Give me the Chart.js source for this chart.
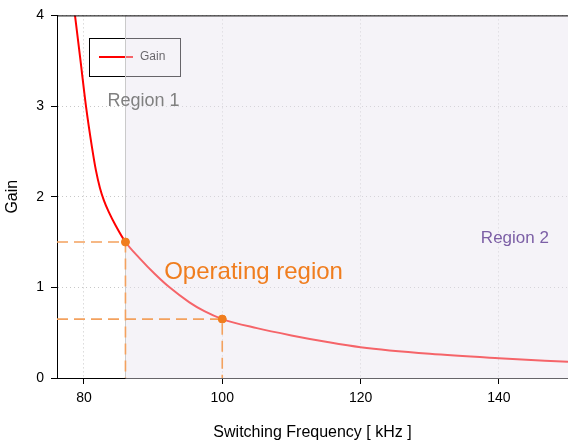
<!DOCTYPE html>
<html>
<head>
<meta charset="utf-8">
<script src="https://cdn.jsdelivr.net/npm/chart.js@4.4.1/dist/chart.umd.min.js"></script>
<style>
  html, body { margin: 0; padding: 0; background: #fff; }
  #wrap { width: 568px; height: 443px; }
</style>
</head>
<body>
<div id="wrap"><canvas id="gain-chart" width="568" height="443"></canvas></div>
<script>
// values
const freqKHz = [78.7, 79.5, 80.29, 81.15, 81.73, 82.3, 82.88, 83.6, 84.6, 86,
  88.06, 90.22, 92.37, 95.25, 97.41, 100, 105, 110, 115, 120, 130, 140, 150];
const gain = [4.0, 3.5, 3.0, 2.55, 2.29, 2.1, 1.96, 1.83, 1.68, 1.5,
  1.32, 1.15, 1.0, 0.835, 0.737, 0.65, 0.55, 0.47, 0.40, 0.34, 0.267, 0.218, 0.178];
const opFreq = [86, 100];
const opGain = [1.5, 0.65];
const regionSplit = 86;
const xTicks = [80, 100, 120, 140];
const yTicks = [0, 1, 2, 3, 4];
const xMin = 76.1, xMax = 150;

const font = "'Liberation Sans', Arial, sans-serif";
Chart.defaults.font.family = font;
Chart.defaults.color = '#000';

const gainPoints = freqKHz.map((f, i) => ({ x: f, y: gain[i] }));

// dashed guide lines from the y axis to each operating point and down to 0
const guideSets = opFreq.map((f, i) => ({
  label: 'guide' + i,
  data: [{ x: xMin, y: opGain[i] }, { x: f, y: opGain[i] }, { x: f, y: 0 }],
  borderColor: '#f3a15e',
  borderWidth: 1.6,
  borderDash: [11, 6],
  pointRadius: 0,
  tension: 0,
  order: 2
}));

const decor = {
  id: 'decor',
  beforeDatasetsDraw(chart) {
    // legend box (sits under the region shading like in the original)
    const ctx = chart.ctx;
    ctx.save();
    ctx.fillStyle = '#fff';
    ctx.fillRect(89.5, 38.5, 91, 38);
    ctx.strokeStyle = '#000';
    ctx.lineWidth = 1;
    ctx.strokeRect(89.5, 38.5, 91, 38);
    ctx.strokeStyle = chart.data.datasets[0].borderColor;
    ctx.lineWidth = 2;
    ctx.beginPath();
    ctx.moveTo(99, 57);
    ctx.lineTo(133, 57);
    ctx.stroke();
    ctx.fillStyle = '#000';
    ctx.font = '12px ' + font;
    ctx.textBaseline = 'middle';
    ctx.fillText(chart.data.datasets[0].label, 140, 57);
    ctx.restore();
  },
  afterDatasetDraw(chart, args) {
    if (args.index !== 0) return;
    const { ctx, chartArea } = chart;
    const x = chart.scales.x.getPixelForValue(regionSplit);
    ctx.save();
    ctx.fillStyle = 'rgba(232, 227, 239, 0.44)';
    ctx.fillRect(x, chartArea.top, chartArea.right - x, chartArea.bottom - chartArea.top + 1);
    ctx.strokeStyle = '#cacaca';
    ctx.lineWidth = 1;
    ctx.beginPath();
    ctx.moveTo(Math.round(x) + 0.5, chartArea.top);
    ctx.lineTo(Math.round(x) + 0.5, chartArea.bottom);
    ctx.stroke();
    ctx.restore();
  },
  afterDatasetsDraw(chart) {
    const { ctx } = chart;
    const sx = chart.scales.x, sy = chart.scales.y;
    ctx.save();
    ctx.textAlign = 'left';
    ctx.textBaseline = 'alphabetic';
    ctx.font = '18px ' + font;
    ctx.fillStyle = '#808080';
    ctx.fillText('Region 1', sx.getPixelForValue(83.4), sy.getPixelForValue(3.0));
    ctx.textBaseline = 'middle';
    ctx.font = '17px ' + font;
    ctx.fillStyle = '#7c5fa6';
    ctx.fillText('Region 2', sx.getPixelForValue(137.4), sy.getPixelForValue(1.54));
    ctx.font = '24px ' + font;
    ctx.fillStyle = '#f07d1e';
    ctx.fillText('Operating region', sx.getPixelForValue(91.6), sy.getPixelForValue(1.16));
    ctx.restore();
  },
  afterDraw(chart) {
    const { ctx, chartArea } = chart;
    ctx.save();
    ctx.strokeStyle = '#000';
    ctx.lineWidth = 1;
    ctx.beginPath();
    ctx.moveTo(chartArea.left, chartArea.top + 0.5);
    ctx.lineTo(chartArea.right, chartArea.top + 0.5);
    ctx.stroke();
    ctx.restore();
  }
};

new Chart(document.getElementById('gain-chart'), {
  type: 'line',
  data: {
    datasets: [
      {
        label: 'Gain',
        data: gainPoints,
        borderColor: '#ff0000',
        borderWidth: 2,
        pointRadius: 0,
        cubicInterpolationMode: 'monotone',
        order: 3
      },
      ...guideSets,
      {
        label: 'points',
        data: opFreq.map((f, i) => ({ x: f, y: opGain[i] })),
        showLine: false,
        pointRadius: 4,
        pointBackgroundColor: '#f07d1e',
        pointBorderColor: '#f07d1e',
        order: 1
      }
    ]
  },
  options: {
    responsive: false,
    animation: false,
    layout: { autoPadding: false, padding: { top: 11, right: 0, left: 0, bottom: 0 } },
    plugins: {
      legend: { display: false },
      tooltip: { enabled: false }
    },
    scales: {
      x: {
        type: 'linear',
        min: xMin,
        max: xMax,
        afterBuildTicks: (s) => { s.ticks = xTicks.map(v => ({ value: v })); },
        afterFit: (s) => { s.height = 65; },
        ticks: { font: { size: 14 }, padding: 6, maxRotation: 0 },
        grid: { color: '#c8c8c8', tickColor: '#000', tickLength: 6 },
        border: { color: '#000', width: 1, dash: [1, 3] },
        title: {
          display: true,
          text: 'Switching Frequency [ kHz ]',
          font: { size: 16, lineHeight: 1.2 },
          padding: { top: 4, bottom: 1 }
        }
      },
      y: {
        min: 0,
        max: 4,
        afterBuildTicks: (s) => { s.ticks = yTicks.map(v => ({ value: v })); },
        afterFit: (s) => { s.width = 57; },
        ticks: { font: { size: 14 }, padding: 7 },
        grid: { color: '#c8c8c8', tickColor: '#000', tickLength: 6 },
        border: { color: '#000', width: 1, dash: [1, 3] },
        title: {
          display: true,
          text: 'Gain',
          font: { size: 16, lineHeight: 1.2 },
          padding: { top: 3, bottom: 0 }
        }
      }
    }
  },
  plugins: [decor]
});
</script>
</body>
</html>
